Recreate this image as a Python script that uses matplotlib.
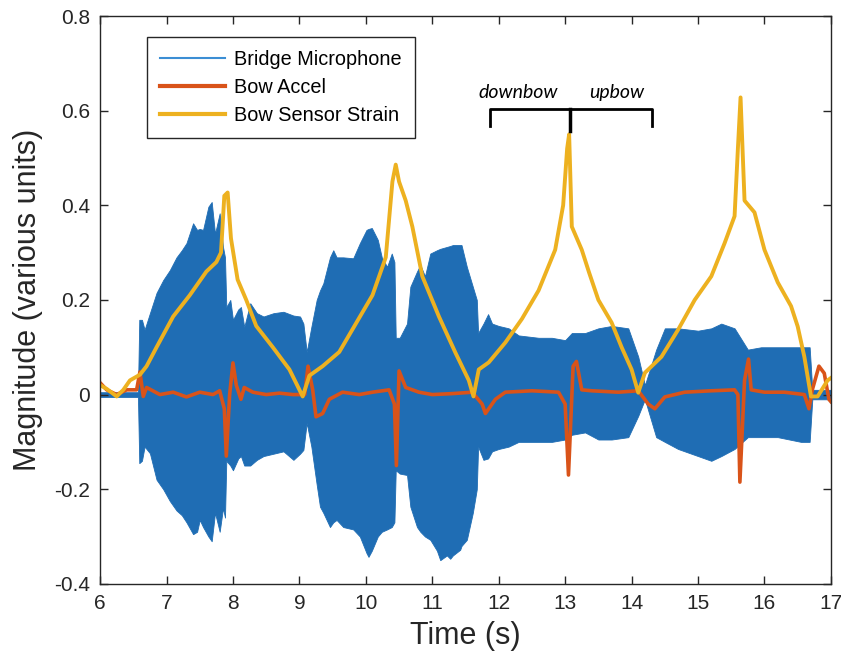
import numpy as np
import matplotlib
matplotlib.use("Agg")
import matplotlib.pyplot as plt
from matplotlib.lines import Line2D

plt.rcParams['font.family'] = ['Liberation Sans', 'DejaVu Sans']
plt.rcParams['axes.unicode_minus'] = False

# Bridge microphone: envelope of the dense waveform (time, upper, lower)
mic_t = [6.0, 6.57, 6.59, 6.63, 6.67, 6.75, 6.85, 6.95, 7.05, 7.15, 7.23, 7.3,
         7.4, 7.46, 7.5, 7.55, 7.63, 7.68, 7.73, 7.8, 7.85, 7.88, 7.9, 7.96,
         8.0, 8.08, 8.12, 8.17, 8.26, 8.36, 8.46, 8.61, 8.76, 8.91, 9.01, 9.06,
         9.11, 9.18, 9.26, 9.31, 9.36, 9.46, 9.51, 9.56, 9.66, 9.81, 9.91, 10.01,
         10.04, 10.09, 10.18, 10.24, 10.32, 10.39, 10.43, 10.45, 10.51, 10.62,
         10.67, 10.77, 10.82, 10.89, 10.97, 11.07, 11.12, 11.22, 11.27, 11.31,
         11.42, 11.44, 11.52, 11.61, 11.67, 11.69, 11.77, 11.84, 11.9, 12.0,
         12.15, 12.3, 12.6, 12.8, 13.0, 13.1, 13.3, 13.5, 13.7, 13.95, 14.1,
         14.2, 14.37, 14.5, 14.7, 15.0, 15.2, 15.35, 15.55, 15.75, 15.95, 16.2,
         16.55, 16.68, 16.72, 17.0]
mic_hi = [0.005, 0.005, 0.158, 0.158, 0.137, 0.172, 0.215, 0.242, 0.263, 0.29, 0.305, 0.32,
          0.362, 0.348, 0.35, 0.348, 0.397, 0.407, 0.34, 0.383, 0.312, 0.29, 0.185, 0.20,
          0.158, 0.18, 0.185, 0.143, 0.193, 0.172, 0.165, 0.172, 0.175, 0.167, 0.165, 0.15,
          0.09, 0.143, 0.20, 0.22, 0.235, 0.29, 0.305, 0.29, 0.29, 0.288, 0.32, 0.348,
          0.35, 0.352, 0.327, 0.29, 0.27, 0.298, 0.28, 0.12, 0.12, 0.15,
          0.228, 0.26, 0.274, 0.25, 0.298, 0.305, 0.308, 0.312, 0.314, 0.316,
          0.316, 0.316, 0.27, 0.228, 0.20, 0.13, 0.15, 0.17, 0.15, 0.145,
          0.14, 0.125, 0.12, 0.12, 0.115, 0.13, 0.13, 0.14, 0.145, 0.14, 0.08,
          0.02, 0.095, 0.14, 0.14, 0.135, 0.14, 0.15, 0.14, 0.095, 0.10, 0.10,
          0.10, 0.10, 0.01, 0.01]
mic_lo = [-0.005, -0.005, -0.145, -0.14, -0.11, -0.124, -0.18, -0.20, -0.225, -0.245, -0.255, -0.27,
          -0.295, -0.29, -0.265, -0.28, -0.30, -0.31, -0.25, -0.29, -0.24, -0.26, -0.14, -0.15,
          -0.16, -0.135, -0.13, -0.15, -0.15, -0.138, -0.13, -0.125, -0.12, -0.138, -0.125, -0.117,
          -0.06, -0.11, -0.19, -0.237, -0.25, -0.28, -0.27, -0.265, -0.28, -0.285, -0.30, -0.335,
          -0.343, -0.33, -0.30, -0.29, -0.285, -0.28, -0.27, -0.16, -0.167, -0.17,
          -0.237, -0.28, -0.29, -0.30, -0.307, -0.33, -0.35, -0.34, -0.347, -0.34,
          -0.328, -0.32, -0.307, -0.25, -0.20, -0.11, -0.138, -0.135, -0.12, -0.115,
          -0.11, -0.10, -0.10, -0.10, -0.095, -0.085, -0.08, -0.095, -0.095, -0.09, -0.045,
          -0.01, -0.09, -0.10, -0.115, -0.13, -0.14, -0.13, -0.115, -0.09, -0.09, -0.09,
          -0.10, -0.10, -0.01, -0.01]

# Bow accelerometer
acc_t = [6.0, 6.1, 6.25, 6.4, 6.55, 6.6, 6.65, 6.7, 6.9, 7.1, 7.3, 7.5, 7.7, 7.8,
         7.87, 7.9, 7.95, 8.0, 8.05, 8.12, 8.17, 8.3, 8.5, 8.7, 8.9, 9.08, 9.13,
         9.2, 9.25, 9.35, 9.45, 9.65, 9.9, 10.1, 10.35, 10.43, 10.46, 10.5, 10.6,
         10.8, 11.0, 11.3, 11.6, 11.75, 11.8, 11.95, 12.1, 12.5, 12.9, 13.0, 13.05,
         13.12, 13.17, 13.25, 13.4, 13.8, 14.1, 14.25, 14.35, 14.5, 14.8, 15.2,
         15.55, 15.6, 15.63, 15.7, 15.76, 15.8, 16.0, 16.3, 16.6, 16.67, 16.72,
         16.82, 16.9, 16.97, 17.0]
acc_v = [0.025, 0.01, 0.0, 0.01, 0.01, 0.048, -0.004, 0.015, 0.0, 0.005, -0.005, 0.005, 0.0, 0.008,
         -0.03, -0.13, 0.0, 0.067, 0.02, -0.01, 0.015, 0.005, 0.0, 0.003, 0.0, 0.0, 0.06,
         0.01, -0.047, -0.04, -0.01, 0.005, 0.0, 0.005, 0.01, -0.02, -0.15, 0.05, 0.015,
         0.005, 0.0, 0.002, 0.005, -0.02, -0.04, -0.01, 0.005, 0.008, 0.005, -0.02, -0.17,
         0.06, 0.07, 0.01, 0.008, 0.005, 0.008, -0.02, -0.03, -0.005, 0.005, 0.008,
         0.01, 0.0, -0.185, 0.03, 0.075, 0.01, 0.005, 0.005, 0.0, -0.03, 0.01,
         0.06, 0.045, -0.01, -0.015]

# Bow sensor strain
str_t = [6.0, 6.1, 6.25, 6.35, 6.45, 6.6, 6.7, 6.85, 7.1, 7.35, 7.6, 7.75, 7.82, 7.87,
         7.92, 7.97, 8.07, 8.2, 8.35, 8.6, 8.85, 9.05, 9.15, 9.35, 9.6, 9.85, 10.1,
         10.3, 10.4, 10.45, 10.5, 10.6, 10.7, 10.85, 11.1, 11.35, 11.55, 11.62, 11.7,
         11.85, 12.1, 12.35, 12.6, 12.85, 12.97, 13.03, 13.06, 13.1, 13.25, 13.36,
         13.5, 13.7, 13.85, 14.0, 14.1, 14.2, 14.45, 14.7, 14.95, 15.2, 15.4, 15.55,
         15.6, 15.64, 15.7, 15.85, 16.0, 16.2, 16.4, 16.5, 16.6, 16.7, 16.8, 16.95, 17.0]
str_v = [0.02, 0.012, -0.004, 0.01, 0.03, 0.042, 0.06, 0.10, 0.165, 0.21, 0.26, 0.28, 0.30, 0.42,
         0.427, 0.33, 0.243, 0.20, 0.145, 0.10, 0.053, -0.004, 0.04, 0.06, 0.09, 0.15, 0.21,
         0.29, 0.45, 0.486, 0.45, 0.41, 0.355, 0.25, 0.165, 0.088, 0.03, -0.004, 0.053,
         0.068, 0.11, 0.16, 0.22, 0.306, 0.40, 0.52, 0.55, 0.355, 0.306, 0.258,
         0.20, 0.152, 0.10, 0.053, 0.004, 0.046, 0.08, 0.137, 0.20, 0.25, 0.32, 0.377,
         0.52, 0.628, 0.41, 0.385, 0.306, 0.237, 0.187, 0.144, 0.08, -0.004, -0.004, 0.03, 0.035]

blue = '#1f6db4'
orange = '#d95319'
yellow = '#edb120'

fig = plt.figure(figsize=(8.41, 6.68), dpi=100)
ax = fig.add_axes([0.119, 0.126, 0.869, 0.850])

ax.fill_between(mic_t, mic_lo, mic_hi, color=blue, linewidth=0.6, edgecolor=blue)
ax.plot(acc_t, acc_v, color=orange, linewidth=2.6)
ax.plot(str_t, str_v, color=yellow, linewidth=2.8)

ax.set_xlim(6, 17)
ax.set_ylim(-0.4, 0.8)
ax.set_xticks(range(6, 18))
ax.set_yticks([-0.4, -0.2, 0, 0.2, 0.4, 0.6, 0.8])
ax.set_yticklabels(['-0.4', '-0.2', '0', '0.2', '0.4', '0.6', '0.8'])
ax.tick_params(direction='in', length=6, width=1, top=True, right=True,
               labelsize=15, colors='#262626', pad=7)
for s in ax.spines.values():
    s.set_color('#262626')
    s.set_linewidth(1)

ax.set_xlabel('Time (s)', fontsize=22, color='#262626', labelpad=6)
ax.set_ylabel('Magnitude (various units)', fontsize=22, color='#262626', labelpad=8)

handles = [Line2D([], [], color='#3b8ed4', linewidth=1.5),
           Line2D([], [], color=orange, linewidth=3),
           Line2D([], [], color=yellow, linewidth=3)]
leg = ax.legend(handles, ['Bridge Microphone', 'Bow Accel', 'Bow Sensor Strain'],
                loc='upper left', bbox_to_anchor=(0.064, 0.963), fontsize=14.3,
                handlelength=3.3, handletextpad=0.45, labelspacing=0.45,
                borderpad=0.65, borderaxespad=0, fancybox=False, framealpha=1)
leg.get_frame().set_edgecolor('#262626')
leg.get_frame().set_linewidth(1)

# downbow / upbow bracket
bx = [11.87, 13.07, 14.31]
btop, bleg, bmid = 0.604, 0.568, 0.557
ax.plot([bx[0], bx[0], bx[2], bx[2]], [bleg, btop, btop, bleg], color='black', linewidth=2,
        solid_joinstyle='round')
ax.plot([bx[1], bx[1]], [btop, bmid], color='black', linewidth=2.5)
ax.text(12.29, 0.639, 'downbow', fontsize=14, style='italic', family='Lato',
        ha='center', va='center')
ax.text(13.78, 0.639, 'upbow', fontsize=14, style='italic', family='Lato',
        ha='center', va='center')

fig.savefig('out.png', dpi=100)
